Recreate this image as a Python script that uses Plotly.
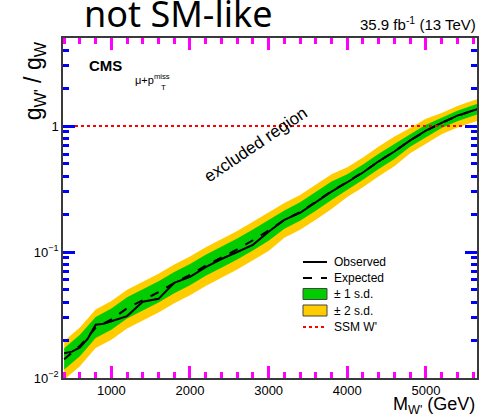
import plotly.graph_objects as go
import math

# ---- data ----
mass = [400, 600, 800, 1000, 1200, 1400, 1600, 1800, 2000, 2200, 2400, 2600, 2800,
        3000, 3200, 3400, 3600, 3800, 4000, 4200, 4400, 4600, 4800, 5000, 5200,
        5400, 5600, 5700]
expected = [0.0141, 0.0180, 0.0250, 0.0292, 0.0358, 0.0412, 0.0480, 0.0568, 0.0657,
            0.0780, 0.0905, 0.105, 0.124, 0.148, 0.180, 0.208, 0.250, 0.305, 0.360,
            0.430, 0.525, 0.630, 0.770, 0.915, 1.06, 1.20, 1.33, 1.39]
plus1 = [0.0172, 0.0220, 0.0305, 0.0356, 0.0437, 0.0503, 0.0586, 0.0693, 0.0802,
         0.0952, 0.110, 0.128, 0.151, 0.181, 0.214, 0.248, 0.298, 0.363, 0.414,
         0.495, 0.604, 0.725, 0.862, 1.025, 1.166, 1.32, 1.463, 1.529]
plus2 = [0.0197, 0.0252, 0.0350, 0.0409, 0.0501, 0.0577, 0.0672, 0.0795, 0.0920,
         0.109, 0.127, 0.147, 0.174, 0.207, 0.245, 0.283, 0.340, 0.415, 0.472,
         0.563, 0.688, 0.825, 0.963, 1.144, 1.272, 1.44, 1.596, 1.668]
minus1 = [0.0117, 0.0149, 0.0208, 0.0242, 0.0297, 0.0342, 0.0398, 0.0471, 0.0545,
          0.0647, 0.0751, 0.0872, 0.103, 0.123, 0.153, 0.177, 0.213, 0.259, 0.313,
          0.374, 0.457, 0.548, 0.685, 0.814, 0.965, 1.092, 1.210, 1.265]
minus2 = [0.0097, 0.0124, 0.0173, 0.0201, 0.0247, 0.0284, 0.0331, 0.0392, 0.0453,
          0.0538, 0.0624, 0.0725, 0.0856, 0.102, 0.130, 0.150, 0.180, 0.220, 0.274,
          0.327, 0.399, 0.479, 0.608, 0.723, 0.859, 0.972, 1.077, 1.126]

obs_mass = [400, 500, 600, 700, 800, 900, 1000, 1200, 1400, 1600, 1800, 2000, 2200,
            2400, 2600, 2800, 3000, 3200, 3400, 3600, 3800, 4000, 4200, 4400, 4600,
            4800, 5000, 5200, 5400, 5600, 5700]
observed = [0.0157, 0.0162, 0.0175, 0.0205, 0.0265, 0.0270, 0.0282, 0.0310, 0.0403,
            0.0425, 0.0570, 0.0635, 0.0760, 0.0880, 0.100, 0.114, 0.145, 0.180,
            0.205, 0.248, 0.302, 0.358, 0.428, 0.525, 0.628, 0.770, 0.920, 1.06,
            1.21, 1.33, 1.39]

ssm_ratio = 1.0
x_range = [385, 5650]
y_range = [0.01, 5.0]

x_ticks = [1000, 2000, 3000, 4000, 5000]
y_ticks = [0.01, 0.1, 1]
y_ticktext = ["10<sup>\u22122</sup>", "10<sup>\u22121</sup>", "1"]

legend_labels = ["Observed", "Expected", "\u00b1 1 s.d.", "\u00b1 2 s.d.", "SSM W'"]

GREEN = "#00cc00"
YELLOW = "#ffcc00"
RED = "#ff0000"
AXC = "#3a3a3a"
FONT = "Liberation Sans, Arial, sans-serif"

fig = go.Figure()

fig.add_trace(go.Scatter(
    x=mass + mass[::-1], y=plus2 + minus2[::-1], fill="toself",
    fillcolor=YELLOW, line=dict(width=0), mode="lines",
    name=legend_labels[3], showlegend=False, hoverinfo="skip"))
fig.add_trace(go.Scatter(
    x=mass + mass[::-1], y=plus1 + minus1[::-1], fill="toself",
    fillcolor=GREEN, line=dict(width=0), mode="lines",
    name=legend_labels[2], showlegend=False, hoverinfo="skip"))
fig.add_trace(go.Scatter(
    x=mass, y=expected, mode="lines", line=dict(color="black", width=2, dash="dash"),
    name=legend_labels[1], showlegend=False))
fig.add_trace(go.Scatter(
    x=obs_mass, y=observed, mode="lines", line=dict(color="black", width=2),
    name=legend_labels[0], showlegend=False))
fig.add_trace(go.Scatter(
    x=x_range, y=[ssm_ratio, ssm_ratio], mode="lines",
    line=dict(color=RED, width=2, dash="dot"),
    name=legend_labels[4], showlegend=False))

fig.update_xaxes(
    range=x_range, tickvals=x_ticks,
    showline=True, linecolor=AXC, linewidth=1.5, mirror="ticks",
    ticks="inside", ticklen=12, tickwidth=3, tickcolor="#ff00ff",
    minor=dict(ticks="inside", ticklen=6, tickwidth=3, tickcolor="#ff00ff", dtick=200,
               tick0=0, showgrid=False),
    showgrid=False, zeroline=False,
    tickfont=dict(family=FONT, size=13, color="black"),
)
fig.update_yaxes(
    type="log", range=[math.log10(y_range[0]), math.log10(y_range[1])],
    tickvals=y_ticks, ticktext=y_ticktext,
    showline=True, linecolor=AXC, linewidth=1.5, mirror="ticks",
    ticks="inside", ticklen=12, tickwidth=3, tickcolor="#0000ff",
    minor=dict(ticks="inside", ticklen=6, tickwidth=3, tickcolor="#0000ff", dtick="D1",
               showgrid=False),
    showgrid=False, zeroline=False,
    tickfont=dict(family=FONT, size=13, color="black"),
)

PW, PH = 414.0, 340.0


def px_x(p):
    return (p - 63) / PW


def px_y(p):
    return (378 - p) / PH


annotations = [
    dict(text="not SM-like", xref="paper", yref="paper", x=0.046, y=0.993,
         xanchor="left", yanchor="bottom", showarrow=False,
         font=dict(family="Noto Sans, Open Sans, sans-serif", size=36, color="black")),
    dict(text="35.9 fb<sup>-1</sup> (13 TeV)", xref="paper", yref="paper", x=1.003,
         y=1.044, xanchor="right", yanchor="middle", showarrow=False,
         font=dict(family=FONT, size=15, color="black")),
    dict(text="<b>CMS</b>", xref="paper", yref="paper", x=0.058, y=0.918,
         xanchor="left", yanchor="middle", showarrow=False,
         font=dict(family=FONT, size=15, color="black")),
    dict(text="\u03bc+p<sup>miss</sup>", xref="paper", yref="paper", x=0.169, y=0.878,
         xanchor="left", yanchor="middle", showarrow=False,
         font=dict(family=FONT, size=11, color="black")),
    dict(text="T", xref="paper", yref="paper", x=0.232, y=0.853,
         xanchor="left", yanchor="middle", showarrow=False,
         font=dict(family=FONT, size=8, color="black")),
    dict(text="excluded region", xref="x", yref="y", x=2840, y=-0.15,
         textangle=-34, showarrow=False,
         font=dict(family=FONT, size=17, color="black")),
    dict(text="g<sub>W'</sub> / g<sub>W</sub>", xref="paper", yref="paper",
         x=-0.068, y=0.875, textangle=-90, xanchor="center", yanchor="middle",
         showarrow=False, font=dict(family=FONT, size=23, color="black")),
    dict(text="M<sub>W'</sub> (GeV)", xref="paper", yref="paper", x=1.0, y=-0.08,
         xanchor="right", yanchor="middle", showarrow=False,
         font=dict(family=FONT, size=18, color="black")),
]

leg_rows = [262, 278, 294, 310.5, 327]
sx0, sx1, tx = px_x(303), px_x(327), px_x(332)
shapes = [
    dict(type="line", xref="paper", yref="paper", x0=sx0, x1=sx1,
         y0=px_y(leg_rows[0]), y1=px_y(leg_rows[0]), line=dict(color="black", width=2)),
    dict(type="line", xref="paper", yref="paper", x0=sx0, x1=sx1,
         y0=px_y(leg_rows[1]), y1=px_y(leg_rows[1]),
         line=dict(color="black", width=2, dash="dash")),
    dict(type="rect", xref="paper", yref="paper", x0=sx0, x1=sx1,
         y0=px_y(leg_rows[2] + 5.5), y1=px_y(leg_rows[2] - 5.5),
         fillcolor=GREEN, line=dict(color="#444444", width=1)),
    dict(type="rect", xref="paper", yref="paper", x0=sx0, x1=sx1,
         y0=px_y(leg_rows[3] + 5.5), y1=px_y(leg_rows[3] - 5.5),
         fillcolor=YELLOW, line=dict(color="#444444", width=1)),
    dict(type="line", xref="paper", yref="paper", x0=sx0, x1=sx1,
         y0=px_y(leg_rows[4]), y1=px_y(leg_rows[4]),
         line=dict(color=RED, width=2, dash="dot")),
]
for label, row in zip(legend_labels, leg_rows):
    annotations.append(dict(text=label, xref="paper", yref="paper", x=tx, y=px_y(row),
                            xanchor="left", yanchor="middle", showarrow=False,
                            font=dict(family=FONT, size=12, color="black")))

fig.update_layout(
    width=490, height=416,
    margin=dict(l=63, r=13, t=38, b=38),
    paper_bgcolor="white", plot_bgcolor="white",
    showlegend=False,
    annotations=annotations,
    shapes=shapes,
)

fig.write_html("out.html")
